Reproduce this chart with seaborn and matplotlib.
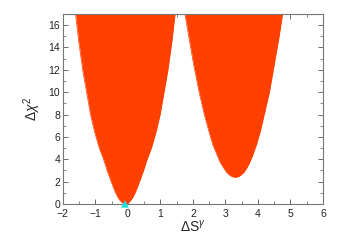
import matplotlib
matplotlib.use("Agg")
import pandas as pd
import seaborn as sns
from matplotlib import pyplot as plt
from matplotlib.ticker import MultipleLocator

# boundary of the allowed region
left_chi2 = [0.0, 0.1, 0.3, 0.6, 1.0, 1.5, 2.2, 3.0, 4.0, 5.0, 6.5, 8.0, 10.0, 12.0, 14.5, 17.0]
left_lo = [-0.08, -0.17, -0.24, -0.31, -0.38, -0.45, -0.54, -0.64, -0.75, -0.88,
           -1.03, -1.15, -1.27, -1.39, -1.51, -1.61]
left_hi = [-0.08, 0.01, 0.08, 0.15, 0.22, 0.29, 0.38, 0.48, 0.59, 0.72,
           0.87, 0.99, 1.11, 1.23, 1.35, 1.45]

right_chi2 = [2.38, 2.45, 2.6, 2.85, 3.2, 3.7, 4.4, 5.3, 6.5, 8.0, 10.0, 12.5, 15.0, 17.0]
right_lo = [3.30, 3.20, 3.12, 3.03, 2.95, 2.84, 2.74, 2.61, 2.49, 2.35,
            2.19, 2.02, 1.87, 1.755]
right_hi = [3.30, 3.40, 3.48, 3.57, 3.65, 3.74, 3.84, 3.95, 4.07, 4.19,
            4.35, 4.50, 4.65, 4.755]

best_x = [-0.09]
best_y = [0.0]

FILL = "#ff4000"

sns.set_style("ticks")
plt.rcParams["font.family"] = ["Liberation Sans", "DejaVu Sans"]
plt.rcParams["mathtext.fontset"] = "custom"
plt.rcParams["mathtext.rm"] = "Liberation Sans"
plt.rcParams["mathtext.it"] = "Liberation Sans:italic"

fig = plt.figure(figsize=(3.53, 2.49), dpi=100)
ax = fig.add_axes([0.178, 0.181, 0.737, 0.763])

for chi2, lo, hi in [(left_chi2, left_lo, left_hi), (right_chi2, right_lo, right_hi)]:
    ax.fill_betweenx(chi2, lo, hi, color=FILL, linewidth=0)
    edge = pd.DataFrame({"x": lo[::-1] + hi, "y": chi2[::-1] + chi2})
    sns.lineplot(data=edge, x="x", y="y", sort=False, color=FILL, linewidth=0.5, ax=ax)

sns.scatterplot(x=best_x, y=best_y, marker="^", color="#20e0e0", s=30,
                edgecolor="none", ax=ax, clip_on=False, zorder=5)

ax.set_xlim(-2, 6)
ax.set_ylim(0, 17)
ax.xaxis.set_major_locator(MultipleLocator(1))
ax.xaxis.set_minor_locator(MultipleLocator(0.5))
ax.yaxis.set_major_locator(MultipleLocator(2))
ax.yaxis.set_minor_locator(MultipleLocator(1))
ax.tick_params(which="both", direction="in", top=True, right=True,
               color="#555555", labelsize=7.5, labelcolor="#222222")
ax.tick_params(axis="x", pad=3.5)
ax.tick_params(axis="y", pad=2)
ax.tick_params(which="major", length=3.5, width=0.6)
ax.tick_params(which="minor", length=2, width=0.5)
for s in ax.spines.values():
    s.set_color("#777777")
    s.set_linewidth(0.8)

ax.set_xlabel(r"$\Delta\mathrm{S}^{\gamma}$", fontsize=10, labelpad=0)
ax.set_ylabel(r"$\Delta\chi^{2}$", fontsize=10, labelpad=4)

fig.savefig("out.png", dpi=100)
